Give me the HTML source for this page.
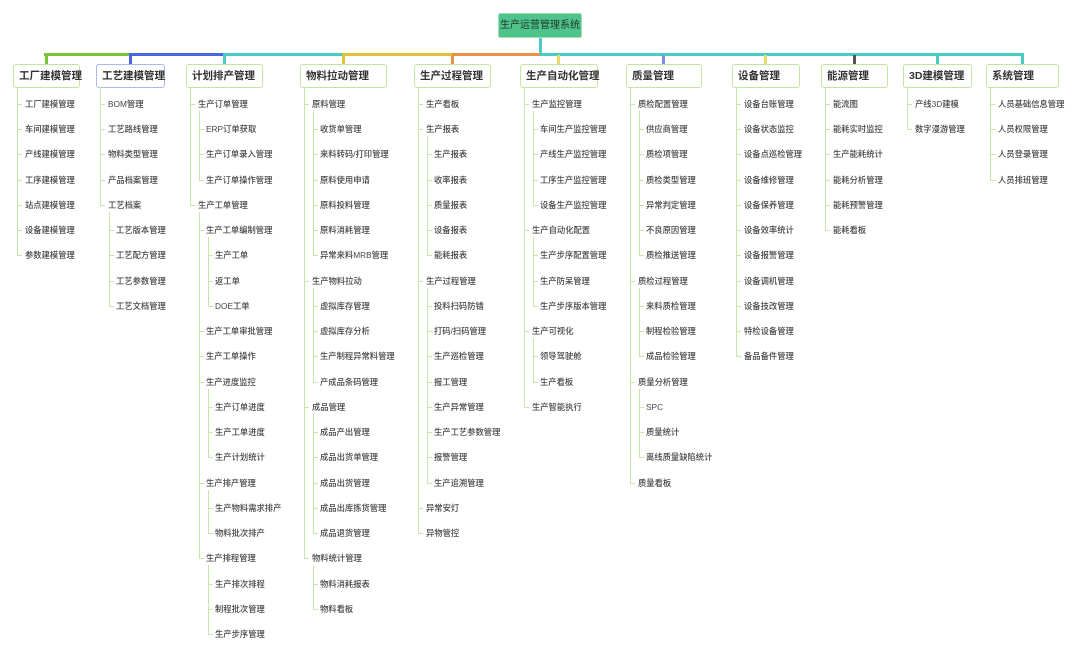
<!DOCTYPE html>
<html><head><meta charset="utf-8">
<style>
html,body{margin:0;padding:0;background:#fff;}
#c{position:relative;width:1080px;height:655px;overflow:hidden;font-family:"Liberation Sans","Noto Sans CJK SC",sans-serif;}
.a{position:absolute;}
.t{position:absolute;font-size:8.3px;color:#444;white-space:nowrap;line-height:12px;height:12px;font-weight:500;}
.b{position:absolute;top:64px;height:22px;border:1px solid #c5e3a5;border-radius:3px;background:#fff;font-size:10.5px;font-weight:bold;color:#333;line-height:22px;box-sizing:content-box;padding-left:5px;white-space:nowrap;}
.v{position:absolute;width:1px;background:#c8e6aa;}
.h{position:absolute;height:1px;background:#c8e6aa;width:5px;}
</style></head><body><div id="c">
<div class="a" style="left:498px;top:13px;width:84px;height:25px;background:#4fc38a;border-radius:2px;border:1px solid #9fdcb8;box-sizing:border-box;color:#1d3a28;font-size:10px;line-height:23px;text-align:center;">生产运营管理系统</div>
<div class="a" style="left:539px;top:38px;width:3px;height:17px;background:#4ccbc6"></div>
<div class="a" style="left:44px;top:53px;width:85px;height:3px;background:#7dc13d"></div>
<div class="a" style="left:129px;top:53px;width:94px;height:3px;background:#4a63e0"></div>
<div class="a" style="left:223px;top:53px;width:119px;height:3px;background:#4ccbc6"></div>
<div class="a" style="left:342px;top:53px;width:110px;height:3px;background:#e0c33a"></div>
<div class="a" style="left:452px;top:53px;width:88px;height:3px;background:#e8914a"></div>
<div class="a" style="left:540px;top:53px;width:484px;height:3px;background:#4ccbc6"></div>
</div>
<script>
var C=document.getElementById('c');
function el(cls,st,txt){var d=document.createElement('div');d.className=cls;d.style.cssText=st;if(txt)d.textContent=txt;C.appendChild(d);}
var cols=[
[13,65,'工厂建模管理','#7dc13d','#c5e3a5',[[1,'工厂建模管理'],[1,'车间建模管理'],[1,'产线建模管理'],[1,'工序建模管理'],[1,'站点建模管理'],[1,'设备建模管理'],[1,'参数建模管理']]],
[96,67,'工艺建模管理','#4a63e0','#aab8f0',[[1,'BOM管理'],[1,'工艺路线管理'],[1,'物料类型管理'],[1,'产品档案管理'],[1,'工艺档案'],[2,'工艺版本管理'],[2,'工艺配方管理'],[2,'工艺参数管理'],[2,'工艺文档管理']]],
[186,75,'计划排产管理','#4ccbc6','#c5e3a5',[[1,'生产订单管理'],[2,'ERP订单获取'],[2,'生产订单录入管理'],[2,'生产订单操作管理'],[1,'生产工单管理'],[2,'生产工单编制管理'],[3,'生产工单'],[3,'返工单'],[3,'DOE工单'],[2,'生产工单审批管理'],[2,'生产工单操作'],[2,'生产进度监控'],[3,'生产订单进度'],[3,'生产工单进度'],[3,'生产计划统计'],[2,'生产排产管理'],[3,'生产物料需求排产'],[3,'物料批次排产'],[2,'生产排程管理'],[3,'生产排次排程'],[3,'制程批次管理'],[3,'生产步序管理']]],
[300,85,'物料拉动管理','#e0c33a','#c5e3a5',[[1,'原料管理'],[2,'收货单管理'],[2,'来料转码/打印管理'],[2,'原料使用申请'],[2,'原料投料管理'],[2,'原料消耗管理'],[2,'异常来料MRB管理'],[1,'生产物料拉动'],[2,'虚拟库存管理'],[2,'虚拟库存分析'],[2,'生产制程异常料管理'],[2,'产成品条码管理'],[1,'成品管理'],[2,'成品产出管理'],[2,'成品出货单管理'],[2,'成品出货管理'],[2,'成品出库拣货管理'],[2,'成品退货管理'],[1,'物料统计管理'],[2,'物料消耗报表'],[2,'物料看板']]],
[414,75,'生产过程管理','#e8914a','#c5e3a5',[[1,'生产看板'],[1,'生产报表'],[2,'生产报表'],[2,'收率报表'],[2,'质量报表'],[2,'设备报表'],[2,'能耗报表'],[1,'生产过程管理'],[2,'投料扫码防错'],[2,'打码/扫码管理'],[2,'生产巡检管理'],[2,'报工管理'],[2,'生产异常管理'],[2,'生产工艺参数管理'],[2,'报警管理'],[2,'生产追溯管理'],[1,'异常安灯'],[1,'异物管控']]],
[520,76,'生产自动化管理','#e8d870','#c5e3a5',[[1,'生产监控管理'],[2,'车间生产监控管理'],[2,'产线生产监控管理'],[2,'工序生产监控管理'],[2,'设备生产监控管理'],[1,'生产自动化配置'],[2,'生产步序配置管理'],[2,'生产防呆管理'],[2,'生产步序版本管理'],[1,'生产可视化'],[2,'领导驾驶舱'],[2,'生产看板'],[1,'生产智能执行']]],
[626,74,'质量管理','#7b8ef0','#c5e3a5',[[1,'质检配置管理'],[2,'供应商管理'],[2,'质检项管理'],[2,'质检类型管理'],[2,'异常判定管理'],[2,'不良原因管理'],[2,'质检推送管理'],[1,'质检过程管理'],[2,'来料质检管理'],[2,'制程检验管理'],[2,'成品检验管理'],[1,'质量分析管理'],[2,'SPC'],[2,'质量统计'],[2,'离线质量缺陷统计'],[1,'质量看板']]],
[732,66,'设备管理','#e8d870','#c5e3a5',[[1,'设备台账管理'],[1,'设备状态监控'],[1,'设备点巡检管理'],[1,'设备维修管理'],[1,'设备保养管理'],[1,'设备效率统计'],[1,'设备报警管理'],[1,'设备调机管理'],[1,'设备技改管理'],[1,'特检设备管理'],[1,'备品备件管理']]],
[821,65,'能源管理','#555555','#c5e3a5',[[1,'能流图'],[1,'能耗实时监控'],[1,'生产能耗统计'],[1,'能耗分析管理'],[1,'能耗预警管理'],[1,'能耗看板']]],
[903,67,'3D建模管理','#4ccbc6','#c5e3a5',[[1,'产线3D建模'],[1,'数字漫游管理']]],
[986,71,'系统管理','#4ccbc6','#c5e3a5',[[1,'人员基础信息管理'],[1,'人员权限管理'],[1,'人员登录管理'],[1,'人员排班管理']]]
];
var Y0=104,DY=25.24;
cols.forEach(function(c){
 var L=c[0],W=c[1],items=c[5];
 var cx=Math.round(L+W/2);
 el('a','left:'+(cx-1)+'px;top:55px;width:3px;height:9px;background:'+c[3]);
 el('b','left:'+L+'px;width:'+(W-5)+'px;border-color:'+c[4],c[2]);
 var tx={1:L+12,2:L+20,3:L+29},lx={1:L+4,2:L+13,3:L+22};
 // lines: for each item, find its parent line range
 items.forEach(function(it,i){
  var lv=it[0],y=Y0+DY*i;
  el('t','left:'+tx[lv]+'px;top:'+(y-6)+'px',it[1]);
  el('h','left:'+lx[lv]+'px;top:'+Math.round(y)+'px');
 });
 // vertical lines
 function groups(lv,start,end,top){
  var last=-1;
  for(var i=start;i<end;i++){if(items[i][0]==lv)last=i;}
  if(last<0)return;
  var yb=Math.round(Y0+DY*last);
  el('v','left:'+lx[lv]+'px;top:'+top+'px;height:'+(yb-top+1)+'px');
  for(var i=start;i<end;i++){
   if(items[i][0]==lv){
    var j=i+1;while(j<end&&items[j][0]>lv)j++;
    if(j>i+1)groups(lv+1,i+1,j,Math.round(Y0+DY*i+7));
   }
  }
 }
 groups(1,0,items.length,87);
});
</script>
</body></html>
